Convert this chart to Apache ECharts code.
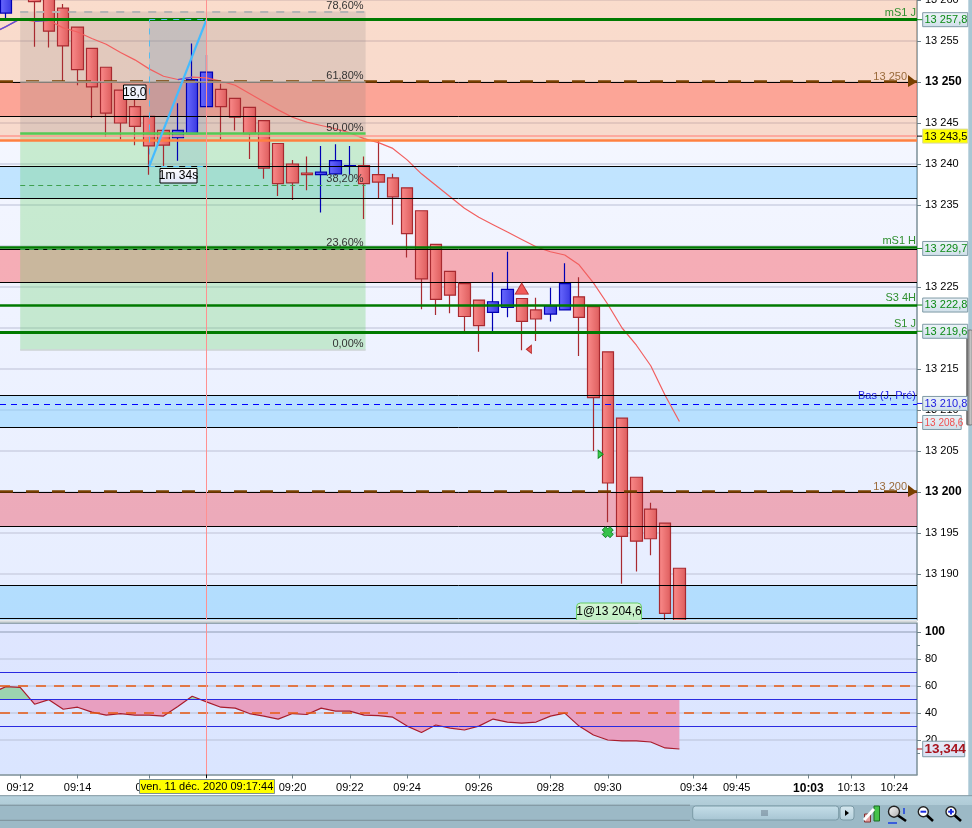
<!DOCTYPE html>
<html><head><meta charset="utf-8">
<script src="https://cdn.jsdelivr.net/npm/echarts@6/dist/echarts.min.js"></script>
<style>html,body{margin:0;padding:0;background:#fff}#c{width:972px;height:828px}</style>
</head><body><div id="c"></div>
<script>
// ---- data ----
const opens  = [13258.4,13261,13262,13261,13259,13256.7,13254.1,13251.8,13249,13247,13245.8,13244.1,13243.2,13243.7,13247,13249.1,13248,13246.9,13245.3,13242.5,13240,13238.9,13238.7,13238.8,13239.7,13239.8,13238.7,13238.3,13237.1,13234.3,13230.2,13226.9,13225.4,13223.4,13221.9,13222.5,13223.6,13222.2,13221.7,13222.2,13223.8,13222.6,13217.1,13209,13201.8,13197.9,13196.2,13190.7];
const closes = [13262,13263,13259.8,13256.2,13254.4,13251.5,13249.4,13246.2,13245,13244.6,13242.2,13242.3,13244.1,13250.3,13251.2,13247,13245.7,13243.7,13239.5,13237.6,13237.7,13238.7,13239,13240.4,13239.8,13237.6,13237.8,13236,13231.5,13226,13223.5,13224,13221.4,13220.3,13223.2,13224.7,13220.8,13221.1,13222.7,13225.4,13221.3,13211.5,13201.1,13194.6,13194,13194.3,13185.2,13184.3];
const lows   = [13257.8,13260,13254.3,13254.2,13250,13249.6,13245.6,13243.3,13243,13242.3,13238.7,13239.7,13240.4,13243.7,13247,13243,13244.1,13240.6,13238.2,13236.1,13235.6,13236.8,13234.1,13238.6,13238.7,13233.3,13235.8,13232.6,13228.6,13222.3,13221.6,13221.8,13219.5,13217.1,13219.5,13221.3,13217.3,13218.4,13220.8,13222.2,13216.6,13205,13196.3,13188.8,13190.3,13192.3,13184.4,13184.3];
const highs  = [13263,13264,13263,13262,13259.5,13256.7,13254.1,13251.8,13249,13247.8,13245.8,13244.1,13247.4,13254.7,13253.3,13249.8,13248,13246.9,13245.3,13242.5,13240.5,13240.9,13242.2,13242.4,13242.2,13240.9,13242.8,13238.8,13237.1,13234.3,13230.2,13226.9,13225.4,13223.4,13226.8,13229.3,13223.6,13223.7,13224.9,13227.9,13226.2,13222.6,13217.1,13209,13201.8,13198.7,13196.2,13190.7];
// first entry of the next two belongs to the bar just left of the window
const maValues = [13255.9,13256.75,13257.7,13257.4,13257.5,13256.6,13256.1,13255.3,13254.6,13253.6,13252.7,13251.6,13250.7,13250.3,13250.6,13250.5,13250.1,13249.6,13248.6,13247.6,13246.6,13245.7,13245.1,13244.7,13244.3,13243.8,13243.1,13242.6,13241.9,13240.5,13238.8,13237.4,13236,13234.6,13233.5,13232.6,13231.7,13230.8,13229.9,13229.3,13228.9,13227.7,13225.5,13222.9,13220,13217.9,13215.4,13211.8,13208.6];
const rsiValues = [54.8,59.5,59,46.5,49.9,42.8,44.3,40.6,38.4,39.6,38.4,38.4,37.7,44.8,52.4,48.2,44.3,43.6,39.6,37.7,35.5,39.6,38.9,43.6,41.4,41.4,38.4,38.1,36.9,30.3,25.6,31.1,28.8,27.4,30.3,35.5,33.3,32.5,33.3,37.7,39.9,30.3,23.7,20,19.3,19.3,18.5,14.1,13.344];
const maRisingRuns = [[-1,1],[2,3],[12,13]];
const priceTicks = [13260,13255,13250,13245,13240,13235,13230,13225,13220,13215,13210,13205,13200,13195,13190];
const priceLabels = [13260,13255,13250,13245,13240,13235,13225,13215,13210,13205,13200,13195,13190];
const rsiLabels = [100,80,60,40,20];
const timeTickIndex = [1,5,10,14,20,24,28,33,38,42,48,51,56,59,62];
const timeTickLabels = ['09:12','09:14','09:16','','09:20','09:22','09:24','09:26','09:28','09:30','09:34','09:45','10:03','10:13','10:24'];
const zones = [[13260,13242.9,'rgba(255,152,85,.3)'],[13249.94,13245.79,'rgba(255,112,98,.5)'],[13239.7,13235.79,'rgba(118,203,255,.4)'],[13229.57,13225.55,'rgba(249,102,109,.5)'],[13211.77,13207.87,'rgba(132,208,255,.5)'],[13199.94,13195.79,'rgba(240,101,117,.5)'],[13188.6,13184.39,'rgba(128,206,253,.5)']];
const blackLines = [13249.94,13245.79,13239.7,13235.79,13229.57,13225.55,13211.77,13207.87,13199.94,13195.79,13188.6,13184.57];
const fibLevels = [[13258.6,'78,60%'],[13250,'61,80%'],[13243.7,'50,00%'],[13237.4,'38,20%'],[13229.6,'23,60%'],[13217.3,'0,00%']];
const fibStart = 1, fibEnd = 25.1;
const measure = {i0:10,i1:14,p0:13239.7,p1:13257.6};
const crossIndex = 14;

const F='"Liberation Sans"';
const idx=new Array(48).fill(0).map((_,i)=>i);
const candles=idx.map(i=>[i,opens[i],closes[i],lows[i],highs[i]]);
const maData=maValues.map((v,k)=>[k-1,v]);
const rsiData=rsiValues.map((v,k)=>[k-1,v]);
const maBlue=[];maRisingRuns.forEach(r=>{for(let i=r[0];i<=r[1];i++)maBlue.push([i,maValues[i+1]]);maBlue.push([null,null]);});
const fmtP=v=>String(Math.round(v)).replace(/(\d\d)(\d{3})$/,'$1 $2');
const vg=(a,b)=>({type:'linear',x:0,y:0,x2:0,y2:1,colorStops:[{offset:0,color:a},{offset:1,color:b}]});
const hg=(a,b)=>({type:'linear',x:0,y:0,x2:1,y2:0,colorStops:[{offset:0,color:a},{offset:1,color:b}]});
const xMin=-0.4103, xMax=63.58;

const hLine=(p,color,width,type)=>({yAxis:p,lineStyle:{color,width,type:type||'solid'}});
const segLine=(x0,x1,p0,p1,color,width,type)=>[{coord:[x0,p0],lineStyle:{color,width,type:type||'solid'}},{coord:[x1,p1]}];

const areaData=[];
zones.forEach(z=>areaData.push([{coord:[xMin,z[0]],itemStyle:{color:z[2]}},{coord:[xMax,z[1]]}]));
areaData.push([{coord:[fibStart,fibLevels[0][0]],itemStyle:{color:'rgba(120,120,120,.18)'}},{coord:[fibEnd,fibLevels[2][0]]}]);
areaData.push([{coord:[fibStart,fibLevels[2][0]],itemStyle:{color:'rgba(100,210,100,.3)'}},{coord:[fibEnd,fibLevels[5][0]]}]);
areaData.push([{coord:[measure.i0,measure.p1],itemStyle:{color:'rgba(90,150,190,.2)'}},{coord:[measure.i1,measure.p0]}]);

const lineData=[
  ...blackLines.map(p=>hLine(p,'#000',1)),
  hLine(13257.6,'#007a00',3),
  hLine(13229.8,'#007a00',2.5),
  hLine(13222.8,'#007a00',2.5),
  hLine(13219.5,'#007a00',3),
  hLine(13243.4,'#ff9a90',1.5),
  hLine(13242.9,'#ff8040',2.5),
  hLine(13210.67,'#0000ff',1,[6,5]),
  hLine(13250.1,'#7a4000',2.5,[13,13]),
  hLine(13200.1,'#7a4000',2.5,[13,13]),
  segLine(fibStart,fibEnd,fibLevels[0][0],fibLevels[0][0],'#b4b4b4',2,[8,8]),
  segLine(fibStart,fibEnd,fibLevels[1][0],fibLevels[1][0],'#b0a8a0',1.5),
  segLine(fibStart,fibEnd,fibLevels[2][0],fibLevels[2][0],'#55c855',2.5),
  segLine(fibStart,fibEnd,fibLevels[3][0],fibLevels[3][0],'#3fa04f',1,[5,4]),
  segLine(fibStart,fibEnd,fibLevels[4][0],fibLevels[4][0],'#3fa04f',1,[5,4]),
  segLine(fibStart,fibEnd,fibLevels[5][0],fibLevels[5][0],'#d0d4d8',1.5),
  segLine(measure.i0,measure.i1,measure.p1,measure.p1,'#55bbee',1,[6,6]),
  segLine(measure.i0,measure.i1,measure.p0,measure.p0,'#55bbee',1,[6,6]),
  segLine(measure.i0,measure.i0,measure.p0,measure.p1,'#55bbee',1,[6,6]),
  segLine(measure.i0,measure.i1,measure.p0,measure.p1,'#44bbff',2.2),
  {xAxis:crossIndex,lineStyle:{color:'#ff9090',width:1,type:'solid'}}
];

const markers=[
  {coord:[36,13224.8],symbol:'triangle',symbolSize:[13,11],symbolRotate:0,itemStyle:{color:'#f25a5a',borderColor:'#b83030',borderWidth:1}},
  {coord:[36.5,13217.4],symbol:'triangle',symbolSize:[8,5],symbolRotate:90,itemStyle:{color:'#f25a5a',borderColor:'#b83030',borderWidth:1}},
  {coord:[41.5,13204.6],symbol:'triangle',symbolSize:[8,5],symbolRotate:-90,itemStyle:{color:'#3ecf50',borderColor:'#0f8a1f',borderWidth:1}},
  {coord:[42,13195.1],symbol:'path://M3 0L5 2L7 0L10 3L8 5L10 7L7 10L5 8L3 10L0 7L2 5L0 3Z',symbolSize:11,itemStyle:{color:'#35c24a',borderColor:'#17802a',borderWidth:1}}
];

const chart=echarts.init(document.getElementById('c'),null,{renderer:'canvas'});
const option={
  animation:false,
  backgroundColor:'#fff',
  grid:[
    {left:0,top:0,width:917,height:620,show:true,borderWidth:0,outerBoundsMode:'none',backgroundColor:vg('#f8f9ff','#e6edff')},
    {left:0,top:623,width:917,height:151.5,show:true,borderWidth:0,outerBoundsMode:'none',backgroundColor:vg('#dfe6ff','#dae5ff')}
  ],
  xAxis:[
    {type:'value',gridIndex:0,min:xMin,max:xMax,show:false,splitLine:{show:false}},
    {type:'value',gridIndex:1,min:xMin,max:xMax,position:'bottom',splitLine:{show:false},
     axisLine:{show:true,onZero:false,lineStyle:{color:'#7b8f98',width:1.5}},
     axisTick:{show:true,length:4,customValues:timeTickIndex,lineStyle:{color:'#6d8089'}},
     axisLabel:{show:true,customValues:timeTickIndex,margin:8,hideOverlap:false,showMinLabel:true,showMaxLabel:true,
       fontFamily:F,fontSize:11,color:'#000',
       formatter:v=>{const k=timeTickIndex.indexOf(Math.round(v));const s=k<0?'':timeTickLabels[k];return s==='10:03'?'{b|'+s+'}':s;},
       rich:{b:{fontFamily:F,fontSize:12,fontWeight:'bold',color:'#000'}}}}
  ],
  yAxis:[
    {type:'value',gridIndex:0,position:'right',min:13184.3902,max:13260,scale:true,
     axisLine:{show:true,onZero:false,lineStyle:{color:'#7b8f98',width:1.5}},
     axisTick:{show:true,length:4,customValues:priceLabels,lineStyle:{color:'#6d8089'}},
     axisLabel:{show:true,customValues:priceLabels,margin:8,fontFamily:F,fontSize:11,color:'#000',showMinLabel:true,showMaxLabel:true,hideOverlap:false,
       formatter:v=>(v===13250||v===13200)?'{b|'+fmtP(v)+'}':fmtP(v),
       rich:{b:{fontFamily:F,fontSize:12,fontWeight:'bold',color:'#000'}}},
     splitLine:{show:false}},
    {type:'value',gridIndex:1,position:'right',min:-5.5556,max:106.6667,scale:true,
     axisLine:{show:true,onZero:false,lineStyle:{color:'#7b8f98',width:1.5}},
     axisTick:{show:true,length:4,customValues:rsiLabels,lineStyle:{color:'#6d8089'}},
     axisLabel:{show:true,customValues:rsiLabels,margin:8,fontFamily:F,fontSize:11,color:'#000',hideOverlap:false,
       formatter:v=>v===100?'{b|100}':String(v),
       rich:{b:{fontFamily:F,fontSize:12,fontWeight:'bold',color:'#000'}}},
     splitLine:{show:false}}
  ],
  series:[
    {type:'line',name:'levels',xAxisIndex:0,yAxisIndex:0,data:[],silent:true,
     markArea:{silent:true,data:areaData},
     markLine:{silent:true,symbol:'none',animation:false,label:{show:false},precision:4,data:lineData},
     markPoint:{silent:true,animation:false,label:{show:false},data:markers}},
    {type:'line',name:'priceGrid',xAxisIndex:0,yAxisIndex:0,silent:true,z:0,symbol:'none',lineStyle:{width:0},data:[],
     markLine:{z:0,silent:true,symbol:'none',animation:false,label:{show:false},precision:4,data:priceTicks.map(p=>hLine(p,'#cdd1e3',1.5))}},
    {type:'candlestick',xAxisIndex:0,yAxisIndex:0,data:candles,barWidth:12,z:2,silent:true,clip:true,
     itemStyle:{color:hg('#6a6aff','#3838e0'),color0:hg('#fb8c8c','#dd5c5c'),borderColor:'#0000b4',borderColor0:'#a82a30',borderWidth:1.2}},
    {type:'line',xAxisIndex:0,yAxisIndex:0,data:maData,z:3,symbol:'none',silent:true,lineStyle:{color:'#f25f5f',width:1.2}},
    {type:'line',xAxisIndex:0,yAxisIndex:0,data:maBlue,z:4,symbol:'none',silent:true,connectNulls:false,lineStyle:{color:'#5a50e0',width:1.2}},
    {type:'line',name:'rsiGrid',xAxisIndex:1,yAxisIndex:1,silent:true,z:0,symbol:'none',lineStyle:{width:0},data:[],
     markLine:{z:0,silent:true,symbol:'none',animation:false,label:{show:false},precision:4,data:[
       hLine(100,'#aab4cc',1.5),hLine(80,'#c4cde4',1.5),hLine(60,'#c4cde4',1.5),hLine(40,'#c4cde4',1.5),hLine(20,'#c4cde4',1.5)]}},
    {type:'line',xAxisIndex:1,yAxisIndex:1,data:rsiData,z:2,symbol:'none',silent:true,
     lineStyle:{color:'#a81c2c',width:1.2},
     areaStyle:{origin:50,opacity:1,color:{type:'linear',x:0,y:623,x2:0,y2:775,global:true,colorStops:[{offset:0,color:'#9cd4b0'},{offset:0.504,color:'#9cd4b0'},{offset:0.504,color:'#e89fc0'},{offset:1,color:'#e89fc0'}]}},
     markLine:{silent:true,symbol:'none',animation:false,label:{show:false},precision:4,data:[
       hLine(70,'#2a2ae0',1),hLine(50,'#2a2ae0',1),hLine(30,'#2a2ae0',1),
       hLine(60,'#e85a10',1.5,[10,8]),hLine(40,'#e85a10',1.5,[10,8]),
       {xAxis:crossIndex,lineStyle:{color:'#ff9090',width:1,type:'solid'}}]}}
  ]
};
chart.setOption(option);

// ---- annotations placed through the axes ----
const px=i=>chart.convertToPixel({xAxisIndex:0},i);
const py=p=>chart.convertToPixel({yAxisIndex:0},p);
const ry=v=>chart.convertToPixel({yAxisIndex:1},v);
const G=[];
const Z=50;
const text=(x,y,t,font,fill,align,z,va)=>G.push({type:'text',z:z||Z,silent:true,x,y,style:{text:t,font,fill,textAlign:align||'left',textVerticalAlign:va||'middle'}});
const rect=(x,y,w,h,fill,stroke,r,z,lw)=>G.push({type:'rect',z:z||Z,silent:true,shape:{x,y,width:w,height:h,r:r||0},style:{fill,stroke:stroke||null,lineWidth:lw==null?1:lw}});
const line=(x1,y1,x2,y2,stroke,lw,z)=>G.push({type:'line',z:z||Z,silent:true,shape:{x1,y1,x2,y2},style:{stroke,lineWidth:lw||1}});
const f11='11px '+F, f12='12px '+F;

// fibonacci captions
fibLevels.forEach(l=>text(px(fibEnd)-2,py(l[0])-6,l[1],f11,'#333','right'));
// line captions
[[13257.6,'mS1 J','#2f8f2f'],[13229.7,'mS1 H','#2f8f2f'],[13222.8,'S3 4H','#2f8f2f'],[13219.6,'S1 J','#2f8f2f'],[13210.8,'Bas (J, Pré)','#1a1ae6']].forEach(l=>text(916,py(l[0])-7,l[1],f11,l[2],'right'));
[13250,13200].forEach(p=>{
  text(907,py(p)-5.5,fmtP(p),f11,'#9a6a3a','right');
  G.push({type:'polygon',z:Z,silent:true,shape:{points:[[908,py(p)-7],[908,py(p)+5],[917,py(p)]]},style:{fill:'#7a4000'}});
});
// measure captions
rect(123.5,85,22.5,14.5,'#eef1fa','#000',0);
text(134.8,92.6,'18,0',f12,'#000','center');
rect(160,168.5,37,14.5,vg('#ffffff','#dfe4f6'),'#000',0);
text(178.5,176,'1m 34s',f12,'#000','center');
// position label
rect(576.5,603,65,20,vg('#d6f6d6','#bcecc0'),'#66cc66',4);
text(609,612,'1@13 204,6',f12,'#000','center');
// covers what falls below the price panel
rect(0,620,917,3,'#f4f4f4',null,0,51);
line(0,621.2,917,621.2,'#c5cbd0',1,52);
line(0,623.2,917,623.2,'#7b8f98',1.2,52);
// short sub-panel ticks
[90,10].forEach(v=>line(917,ry(v),920,ry(v),'#6d8089',1));
// date tip
rect(139.5,779.5,135,14,'#ffff00','#7b8f98',0);
text(207,786.8,'ven. 11 déc. 2020 09:17:44',f11,'#000','center');
line(px(crossIndex),774.5,px(crossIndex),778,'#000',1);
// price tags
const tag=(y,t,col,w,font,bg,stroke,h)=>{
  h=h||14;
  line(917,y,923,y,col,1);
  rect(922.7,y-h/2,w,h,bg||vg('#eef4f9','#cfdfe9'),stroke===undefined?'#7f9aa5':stroke);
  text(924.5,y+0.4,t,font||'11px '+F,col);
};
tag(py(13257.6),'13 257,8','#0b8a14',45);
tag(py(13229.7),'13 229,7','#0b8a14',45);
tag(py(13222.8),'13 222,8','#0b8a14',45);
tag(py(13219.6),'13 219,6','#0b8a14',45);
tag(py(13243.4),'13 243,5','#000',45,null,'#ffff00','#d8d8a0');
tag(py(13208.6)+1,'13 208,6','#f05050',38.5,'10px '+F);
tag(py(13210.8),'13 210,8','#2020e0',45);
tag(ry(13.344),'13,344','#a8141e',42,'bold 13.5px '+F,vg('#e8ecf8','#d8dff2'),'#7f9aa5',15.5);

// window chrome
rect(968.3,0,3.7,796,'#a9c7d4',null,0,40);
rect(966.7,330,5.3,95,hg('#555','#f4f4f4'),'#666',1,41,0.8);
rect(0,795.5,972,33,vg('#b8d3de','#9bb8c5'),null,0,40);
rect(0,805,972,23,'#9cb9c6',null,0,41);
line(0,795.7,972,795.7,'#8398a2',1,42);
line(0,805.2,690,805.2,'#7b8f98',1,42);
line(0,820.3,690,820.3,'#7b8f98',1,42);
rect(692.7,806,146,14,vg('#c6dfe9','#a6c4d2'),'#7b9aa6',3,43);
[-2,0,2].forEach(d=>line(761,813+d,768,813+d,'#567',0.8,44));
rect(840,806,14,14,vg('#d6e8ef','#b4cfdb'),'#7b9aa6',3,43);
G.push({type:'polygon',z:44,silent:true,shape:{points:[[845,810],[845,816],[849,813]]},style:{fill:'#000'}});
// toolbar icons
rect(874,806,5.5,15,'#45c24a','#1d6d24',0,44);
rect(864.5,814,6,8,'#e8a0a0','#803030',0,44);
line(864,820,874,809,'#fff',3,45);
const glass=(cx,cy,r,r2,fill)=>{
  line(cx+r*0.6,cy+r*0.6,r2[0],r2[1],'#000',2.6,44);
  G.push({type:'circle',z:45,silent:true,shape:{cx,cy,r},style:{fill,stroke:'#222',lineWidth:1.4}});
};
glass(894,811.7,5.5,[906,821],{type:'linear',x:0,y:0,x2:1,y2:1,colorStops:[{offset:0,color:'#fff'},{offset:1,color:'#aaa'}]});
[[904,808,904,814],[888,823,897,823]].forEach(a=>line(a[0],a[1],a[2],a[3],'#1a3fe0',1.5,45));
glass(923.3,811.7,5,[933,821],'#fff');
line(920.5,811.7,926.2,811.7,'#1a2ae0',2,46);
glass(951,811.7,5,[961,821],'#fff');
line(948.2,811.7,953.8,811.7,'#1a2ae0',2,46);
line(951,809,951,814.5,'#1a2ae0',2,46);
chart.setOption({graphic:{elements:G}});
</script></body></html>
